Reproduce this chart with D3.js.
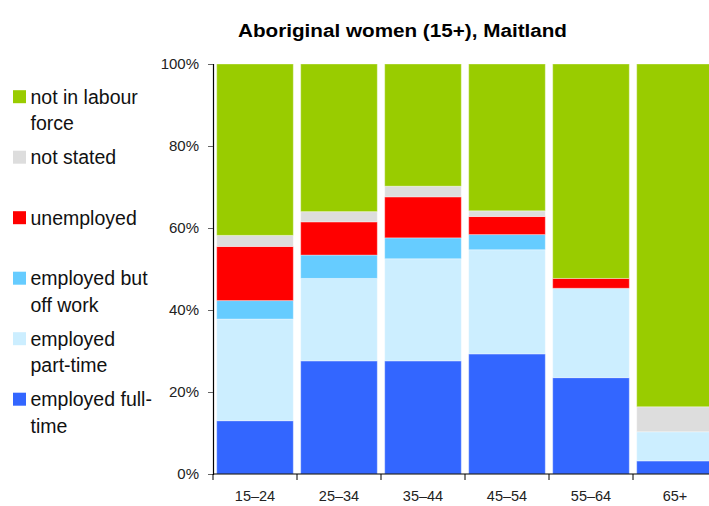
<!DOCTYPE html>
<html>
<head>
<meta charset="utf-8">
<script src="https://cdn.jsdelivr.net/npm/d3@7"></script>
<style>
  body { margin: 0; background: #fff; }
  svg { font-family: "Liberation Sans", Arial, sans-serif; display: block; }
</style>
</head>
<body>
<div id="chart"></div>
<script>
// age groups along the bottom
var ageGroups = ["15–24", "25–34", "35–44", "45–54", "55–64", "65+"];

// stacked from the bottom up, percent of women in each age group
var fullTime    = [13.0, 27.6, 27.6, 29.3, 23.5, 3.2];
var partTime    = [24.8, 20.1, 24.9, 25.4, 21.8, 7.1];
var offWork     = [4.5, 5.7, 5.1, 3.7, 0, 0];
var unemployed  = [13.2, 8.1, 10.0, 4.4, 2.4, 0];
var notStated   = [2.7, 2.5, 2.6, 1.4, 0, 6.1];
var notInLabour = [41.8, 36.0, 29.8, 35.8, 52.3, 83.6];

var yTicks = [0, 20, 40, 60, 80, 100];

var seriesNames = ["employed full-time", "employed part-time", "employed but off work",
	"unemployed", "not stated", "not in labour force"];
var seriesValues = [fullTime, partTime, offWork, unemployed, notStated, notInLabour];
var seriesColors = ["#3366ff", "#cceeff", "#66ccff", "#ff0000", "#dddddd", "#99cc00"];

// legend lines, top to bottom
var legendItems = [
	{lines: ["not in labour", "force"], color: "#99cc00"},
	{lines: ["not stated"], color: "#dddddd"},
	{lines: ["unemployed"], color: "#ff0000"},
	{lines: ["employed but", "off work"], color: "#66ccff"},
	{lines: ["employed", "part-time"], color: "#cceeff"},
	{lines: ["employed full-", "time"], color: "#3366ff"}
];

var width = 709, height = 506;

var svg = d3.select("#chart").append("svg")
	.attr("width", width)
	.attr("height", height);

// build rows for the stack
var rows = ageGroups.map(function(g, i) {
	var r = {group: g};
	seriesNames.forEach(function(s, k) { r[s] = seriesValues[k][i]; });
	return r;
});
var stacked = d3.stack().keys(seriesNames)(rows);

var x = d3.scaleBand().domain(ageGroups).range([213, 717]).padding(0);
var y = d3.scaleLinear().domain([0, 100]).range([474, 64]);
var barInset = 3.7;

// title (the original is a touch wider than Liberation Sans)
svg.append("text")
	.attr("x", 238)
	.attr("y", 36.5)
	.attr("textLength", 329)
	.attr("lengthAdjust", "spacingAndGlyphs")
	.style("font-size", "17.5px")
	.style("font-weight", "bold")
	.text("Aboriginal women (15+), Maitland");

// bars
var layers = svg.selectAll(".layer")
	.data(stacked)
	.enter()
	.append("g")
		.attr("class", "layer")
		.attr("fill", function(d, i) { return seriesColors[i]; });

layers.selectAll("rect")
	.data(function(d) { return d; })
	.enter()
	.append("rect")
		.attr("x", function(d) { return x(d.data.group) + barInset; })
		.attr("width", x.bandwidth() - 2 * barInset)
		.attr("y", function(d) { return y(d[1]); })
		.attr("height", function(d) { return y(d[0]) - y(d[1]); })
		.style("stroke", "rgba(255,255,255,0.35)")
		.style("stroke-width", function(d) { return (d[1] - d[0]) > 0 ? 1 : 0; });

// y axis
var yAxis = svg.append("g")
	.attr("transform", "translate(213,0)")
	.call(d3.axisLeft(y).tickValues(yTicks).tickSize(5).tickPadding(9)
		.tickFormat(function(d) { return d + "%"; }));
yAxis.select(".domain").attr("stroke", "#000").attr("stroke-width", 1.2);
yAxis.selectAll(".tick line").attr("stroke", "#666");
yAxis.selectAll(".tick text")
	.style("font-size", "15px")
	.style("font-family", "Liberation Sans, Arial, sans-serif")
	.attr("fill", "#222");

// x axis: baseline, ticks at band edges, labels at centres
var xAxis = svg.append("g").attr("transform", "translate(0,474)");
xAxis.append("line")
	.attr("x1", 213).attr("x2", 717)
	.attr("stroke", "#000").attr("stroke-width", 1.2);
xAxis.selectAll(".edge")
	.data(ageGroups)
	.enter()
	.append("line")
		.attr("class", "edge")
		.attr("x1", function(d) { return x(d); })
		.attr("x2", function(d) { return x(d); })
		.attr("y1", 0).attr("y2", 6)
		.attr("stroke", "#000");
xAxis.selectAll(".label")
	.data(ageGroups)
	.enter()
	.append("text")
		.attr("class", "label")
		.attr("x", function(d) { return x(d) + x.bandwidth() / 2; })
		.attr("y", 27)
		.attr("text-anchor", "middle")
		.style("font-size", "14.5px")
		.attr("fill", "#222")
		.text(function(d) { return d; });

// legend
var legend = svg.selectAll(".legend")
	.data(legendItems)
	.enter()
	.append("g")
		.attr("class", "legend")
		.attr("transform", function(d, i) { return "translate(13," + (96.7 + i * 60.5) + ")"; });

legend.append("rect")
	.attr("x", 0).attr("y", -6.5)
	.attr("width", 13).attr("height", 13)
	.attr("fill", function(d) { return d.color; });

legend.append("text")
	.attr("x", 17.5)
	.attr("y", 6.8)
	.style("font-size", "19.5px")
	.attr("fill", "#111")
	.selectAll("tspan")
	.data(function(d) { return d.lines; })
	.enter()
	.append("tspan")
		.attr("x", 17.5)
		.attr("dy", function(d, i) { return i === 0 ? 0 : 26.7; })
		.text(function(d) { return d; });
</script>
</body>
</html>
